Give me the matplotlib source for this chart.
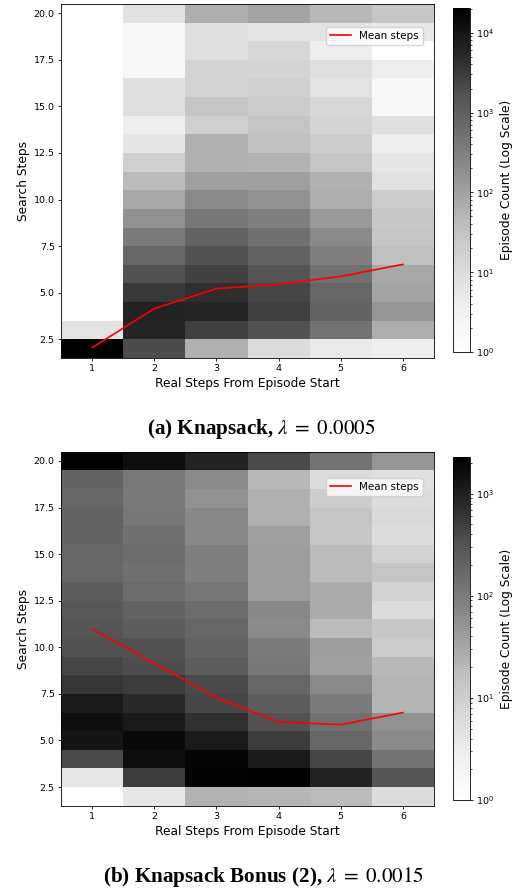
import numpy as np
import matplotlib.pyplot as plt
from matplotlib.colors import LogNorm

real_steps = [1, 2, 3, 4, 5, 6]
# search steps from 20 (top row) down to 2 (bottom row)
search_steps = list(range(20, 1, -1))

# Knapsack, lambda = 0.0005 (columns = real steps 1..6)
counts_a = np.array([
    [0, 8, 67, 91, 49, 28],
    [0, 2, 9, 7, 7, 5],
    [0, 2, 9, 13, 4, 1],
    [0, 2, 16, 15, 9, 4],
    [0, 9, 16, 18, 7, 2],
    [0, 9, 30, 21, 13, 2],
    [0, 4, 19, 30, 15, 9],
    [0, 6, 63, 33, 21, 4],
    [0, 19, 63, 59, 30, 6],
    [0, 44, 107, 107, 63, 8],
    [0, 80, 225, 171, 71, 21],
    [0, 171, 426, 311, 130, 25],
    [0, 371, 907, 553, 225, 30],
    [0, 806, 1700, 907, 311, 38],
    [0, 1700, 2660, 1520, 553, 80],
    [0, 3490, 4600, 2390, 806, 91],
    [0, 6480, 5720, 2800, 907, 148],
    [7, 6060, 2800, 1700, 493, 71],
    [20400, 2010, 63, 10, 5, 4],
])
mean_a = [2.05, 4.15, 5.22, 5.45, 5.88, 6.52]

# Knapsack Bonus (2), lambda = 0.0015
counts_b = np.array([
    [2300, 1630, 940, 393, 126, 49],
    [202, 109, 65, 21, 6, 5],
    [184, 109, 55, 25, 11, 6],
    [202, 112, 71, 25, 14, 7],
    [202, 137, 71, 38, 13, 6],
    [184, 155, 88, 41, 19, 9],
    [184, 137, 88, 41, 19, 14],
    [239, 155, 112, 41, 28, 9],
    [269, 202, 155, 71, 28, 6],
    [303, 239, 184, 65, 19, 13],
    [331, 331, 202, 101, 41, 11],
    [427, 370, 239, 112, 37, 21],
    [605, 530, 393, 184, 68, 23],
    [1160, 780, 427, 239, 101, 23],
    [1550, 1160, 685, 331, 137, 55],
    [1320, 1770, 1160, 530, 184, 65],
    [393, 1630, 2000, 1160, 427, 126],
    [4, 530, 2130, 2300, 940, 303],
    [0, 4, 24, 22, 19, 6],
])
mean_b = [11.0, 9.15, 7.3, 6.0, 5.85, 6.5]

captions = [r"(a) Knapsack, $\lambda\;=\;0.0005$",
            r"(b) Knapsack Bonus (2), $\lambda\;=\;0.0015$"]

fig = plt.figure(figsize=(5.14, 8.90), dpi=100)


def panel(ax, cax, counts, mean, legend_top):
    x_edges = np.arange(0.5, 7.0, 1)
    y_edges = np.arange(1.5, 21.0, 1)
    data = np.ma.masked_equal(np.flipud(counts), 0)
    mesh = ax.pcolormesh(x_edges, y_edges, data, cmap='Greys',
                         norm=LogNorm(vmin=1, vmax=counts.max()))
    ax.plot(real_steps, mean, color='red', lw=1.2, label='Mean steps')
    ax.set_xlim(0.5, 6.5)
    ax.set_ylim(1.5, 20.5)
    ax.set_xticks(real_steps)
    ax.set_xlabel("Real Steps From Episode Start", fontsize=8.8, labelpad=3)
    ax.set_ylabel("Search Steps", fontsize=8.8, labelpad=3)
    ax.tick_params(labelsize=6.8, length=2.5, width=0.6, pad=2)
    for s in ax.spines.values():
        s.set_linewidth(0.6)
    ax.legend(loc='upper right', bbox_to_anchor=(0.97, legend_top),
              borderaxespad=0, fontsize=7.5, framealpha=0.8)

    cb = fig.colorbar(mesh, cax=cax)
    cb.set_label("Episode Count (Log Scale)", fontsize=8.8, labelpad=4)
    cb.ax.tick_params(labelsize=6.8, length=2.5, width=0.6, pad=2)
    cb.ax.tick_params(which='minor', length=1.5, width=0.5)
    cb.outline.set_linewidth(0.6)


ax_a = fig.add_axes([0.1187, 0.5978, 0.7257, 0.3978])
cax_a = fig.add_axes([0.8813, 0.6045, 0.0331, 0.3865])
panel(ax_a, cax_a, counts_a, mean_a, 0.935)

ax_b = fig.add_axes([0.1187, 0.0947, 0.7257, 0.3978])
cax_b = fig.add_axes([0.8813, 0.1011, 0.0331, 0.3857])
panel(ax_b, cax_b, counts_b, mean_b, 0.926)

fig.text(0.508, 1 - 429 / 890, captions[0], ha='center', va='center',
         fontsize=15.2, fontweight='bold', family='Liberation Serif',
         math_fontfamily='stix')
fig.text(0.512, 1 - 877 / 890, captions[1], ha='center', va='center',
         fontsize=15.2, fontweight='bold', family='Liberation Serif',
         math_fontfamily='stix')

fig.savefig("out.png", dpi=100)
